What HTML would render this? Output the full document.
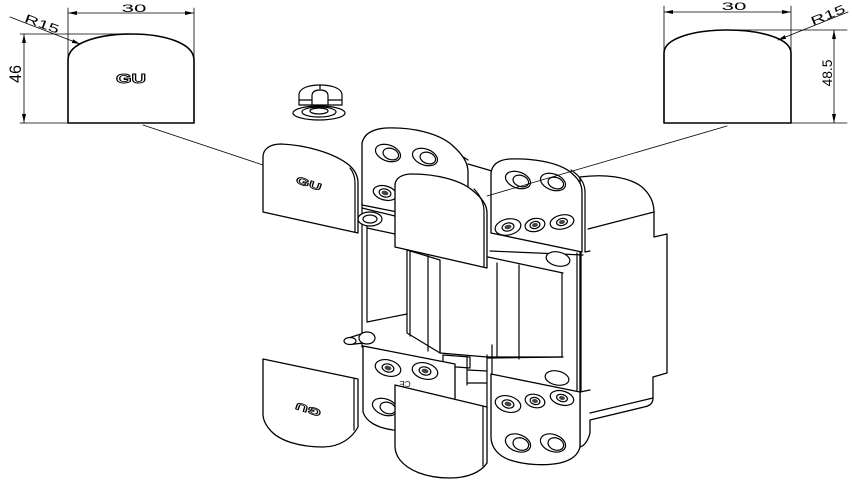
<!DOCTYPE html>
<html><head><meta charset="utf-8"><style>html,body{margin:0;padding:0;background:#fff}svg{display:block}</style></head>
<body>
<svg width="852" height="480" viewBox="0 0 852 480" xmlns="http://www.w3.org/2000/svg">
<g fill="none" stroke="#000" stroke-width="1.2" stroke-linejoin="round" stroke-linecap="round">

<!-- LEFT DIMENSION DRAWING -->
<path d="M68,123 V60 C68,43 98,34 131,34 C164,34 194,43 194,60 V123 Z" stroke-width="1.6"/>
<path d="M68,8 V60 M194,8 V60 M20,34 H131 M20,123 H68 M68,13 H194 M24,34 V123 M10,17 L80,44 M143,125 L263,165" stroke-width="0.8"/>
<g fill="#000" stroke="none">
<polygon points="68,13 77,11 77,15"/><polygon points="194,13 185,11 185,15"/>
<polygon points="24,34 22,43 26,43"/><polygon points="24,123 22,114 26,114"/>
<polygon points="80,44 71.8,42.9 73.2,39.3"/>
</g>
<text x="134" y="12" font-family="Liberation Sans, sans-serif" font-size="11" fill="#000" stroke="none" text-anchor="middle" textLength="25" lengthAdjust="spacingAndGlyphs">30</text>
<text x="15" y="80" font-family="Liberation Sans, sans-serif" font-size="17" fill="#000" stroke="none" text-anchor="middle" textLength="18" lengthAdjust="spacingAndGlyphs" transform="rotate(-90 15 74)">46</text>
<text x="42" y="28" font-family="Liberation Sans, sans-serif" font-size="12" fill="#000" stroke="none" text-anchor="middle" textLength="36" lengthAdjust="spacingAndGlyphs" transform="rotate(20 42 24)">R15</text>
<text x="131" y="83" font-family="Liberation Sans, sans-serif" font-size="13" font-weight="bold" fill="#fff" stroke="#000" stroke-width="0.9" text-anchor="middle" textLength="30" lengthAdjust="spacingAndGlyphs">GU</text>

<!-- RIGHT DIMENSION DRAWING -->
<path d="M664,123 V53 C664,38 695,30 727,30 C759,30 791,38 791,53 V123 Z" stroke-width="1.6"/>
<path d="M664,6 V53 M791,6 V53 M727,30 H847 M791,123 H847 M664,12 H791 M834,30 V123 M848,12 L778,40 M727,126 L600,163" stroke-width="0.8"/>
<g fill="#000" stroke="none">
<polygon points="664,12 673,10 673,14"/><polygon points="791,12 782,10 782,14"/>
<polygon points="834,30 832,39 836,39"/><polygon points="834,123 832,114 836,114"/>
<polygon points="778,40 786.1,38.9 784.7,35.1"/>
</g>
<text x="734" y="10" font-family="Liberation Sans, sans-serif" font-size="11" fill="#000" stroke="none" text-anchor="middle" textLength="25" lengthAdjust="spacingAndGlyphs">30</text>
<text x="827" y="78" font-family="Liberation Sans, sans-serif" font-size="14" fill="#000" stroke="none" text-anchor="middle" textLength="27" lengthAdjust="spacingAndGlyphs" transform="rotate(-90 827 73)">48.5</text>
<text x="828" y="19" font-family="Liberation Sans, sans-serif" font-size="12" fill="#000" stroke="none" text-anchor="middle" textLength="36" lengthAdjust="spacingAndGlyphs" transform="rotate(-22 828 15)">R15</text>

<!-- SMALL TOP PART -->
<ellipse cx="319" cy="113" rx="26" ry="7"/>
<ellipse cx="319" cy="112" rx="17" ry="5"/>
<ellipse cx="319" cy="111" rx="9" ry="3"/>
<path d="M299,105 V95 C299,88 309,85 320,85 C331,85 342,88 342,95 V105 Z" fill="#fff"/>
<path d="M312,105 V96 C312,92 315,90 320,90 C325,90 328,92 328,96 V105 M320,85 V90 M299,100 H312 M328,100 H342"/>

<!-- BACK BODY (right) -->
<path d="M580,177 C602,174 628,176 642,187 C651,195 654,203 654,212 V237 L667,234 V373 L653,377 V398 C653,403 650,406 644,407 L590,420 V433 C588,441 584,446 580,447 L580,177 Z" fill="#fff" stroke-width="1.3"/>
<path d="M588,229 L654,212 M590,413 L653,398"/>
<path d="M468,164 L492,171 M452,150 L468,160"/>

<!-- CENTRAL BOX -->
<path d="M362,203 V347 M367,226 V322 L407,314 M362,208 L395,216 M367,228 L395,234"/>
<path d="M407,250 V333 L440,353 M410,251 V336 M428,255 V351 M440,260 V353 M407,250 L440,260"/>
<path d="M440,353 L487,357 L562,357 M497,263 V358 M519,265 V359 M562,273 V357 M577,253 V392 M581,253 V392"/>
<path d="M488,257 L563,273 M490,251 L583,255"/>
<ellipse cx="558" cy="259" rx="12" ry="7" fill="#fff" transform="rotate(12 558 259)"/>
<ellipse cx="370" cy="219" rx="12" ry="7" fill="#fff"/>
<ellipse cx="370" cy="219" rx="7" ry="4"/>
<path d="M440,320 V353 M450,363 V400 M443,355 L470,357 V368 L443,366 Z M467,357 V385 M468,370 L487,371 M468,383 L487,383 M487,355 V407 M492,345 V375"/>
<path d="M488,358 L563,357"/>
<ellipse cx="557" cy="378" rx="12" ry="7" fill="#fff" transform="rotate(12 557 378)"/>

<!-- UPPER LEFT PLATE -->
<path d="M362,205 V143 C364,134 372,129 386,128 C412,127 438,133 452,145 C462,154 468,162 468,172 V226 Z" fill="#fff" stroke-width="1.3"/>
<g transform="translate(388,153) rotate(20)"><ellipse rx="13" ry="8"/><ellipse cx="3" cy="0" rx="8" ry="5.5"/></g>
<g transform="translate(425,157) rotate(20)"><ellipse rx="13" ry="8"/><ellipse cx="3" cy="0" rx="8" ry="5.5"/></g>
<g transform="translate(385,193) rotate(15)"><ellipse rx="12" ry="7"/><ellipse rx="6" ry="4"/><ellipse rx="3.5" ry="2.2" fill="#444" stroke="none"/></g>

<!-- UPPER LEFT CAP -->
<path d="M263,212 V157 C263,149 270,144 281,144 C306,145 334,153 349,165 C356,171 358,177 358,183 V233 Z" fill="#fff" stroke-width="1.3"/>
<path d="M350,168 C354,173 355,178 355,183 V232"/>
<text x="309" y="187" font-family="Liberation Sans, sans-serif" font-size="10" font-weight="bold" fill="#fff" stroke="#000" stroke-width="0.8" text-anchor="middle" textLength="26" lengthAdjust="spacingAndGlyphs" transform="rotate(18 309 183)">GU</text>

<!-- UPPER RIGHT PLATE -->
<path d="M491,233 V173 C492,165 498,160 509,159 C532,158 556,162 569,171 C578,178 582,184 582,192 V252 Z" fill="#fff" stroke-width="1.3"/>
<path d="M571,170 C580,176 585,183 585,192 V252 L590,251"/>
<g transform="translate(518,180) rotate(20)"><ellipse rx="13" ry="8"/><ellipse cx="3" cy="0" rx="8" ry="5.5"/></g>
<g transform="translate(553,182) rotate(20)"><ellipse rx="13" ry="8"/><ellipse cx="3" cy="0" rx="8" ry="5.5"/></g>
<g transform="translate(508,227) rotate(-12)"><ellipse rx="13" ry="8"/><ellipse rx="6" ry="4"/><ellipse rx="3.5" ry="2.2" fill="#444" stroke="none"/></g>
<g transform="translate(535,225) rotate(-12)"><ellipse rx="10" ry="6.5"/><ellipse rx="5" ry="3.5"/><ellipse rx="3" ry="2" fill="#444" stroke="none"/></g>
<g transform="translate(562,222) rotate(-12)"><ellipse rx="12" ry="7"/><ellipse rx="5.5" ry="3.5"/><ellipse rx="3" ry="2" fill="#444" stroke="none"/></g>
<path d="M600,163 L487,196" stroke-width="0.8"/>

<!-- UPPER MIDDLE CAP -->
<path d="M395,247 V184 C396,178 402,174 412,174 C436,174 460,180 472,190 C482,198 487,205 487,213 V268 Z" fill="#fff" stroke-width="1.3"/>
<path d="M474,189 C481,196 484,204 484,212 V267"/>

<!-- PIN -->
<path d="M350,337.5 L364,333 M350,344.5 L364,343" />
<ellipse cx="367" cy="338" rx="8" ry="6" fill="#fff"/>
<ellipse cx="350" cy="341" rx="6" ry="3.5" fill="#fff"/>

<!-- LOWER LEFT PLATE -->
<path d="M363,346 L455,364 V432 L393,430 C378,428 366,422 363,412 Z" fill="#fff" stroke-width="1.3"/>
<g transform="translate(388,368) rotate(15)"><ellipse rx="13" ry="8"/><ellipse rx="6" ry="4"/><ellipse rx="3.5" ry="2.2" fill="#444" stroke="none"/></g>
<g transform="translate(425,371) rotate(15)"><ellipse rx="13" ry="8"/><ellipse rx="6" ry="4"/><ellipse rx="3.5" ry="2.2" fill="#444" stroke="none"/></g>
<g transform="translate(385,407) rotate(20)"><ellipse rx="13" ry="8"/><ellipse cx="3" cy="0" rx="8" ry="5.5"/></g>
<text x="405" y="387" font-family="Liberation Sans, sans-serif" font-size="8" fill="#000" stroke="none" text-anchor="middle" transform="rotate(180 405 384)">CE</text>

<!-- LOWER LEFT CAP -->
<path d="M263,359 L358,379 V427 C352,438 340,447 323,447 C300,447 281,441 272,432 C266,426 263,420 263,414 Z" fill="#fff" stroke-width="1.3"/>
<path d="M354,378 V430"/>
<text x="308" y="414" font-family="Liberation Sans, sans-serif" font-size="10" font-weight="bold" fill="#fff" stroke="#000" stroke-width="0.8" text-anchor="middle" textLength="26" lengthAdjust="spacingAndGlyphs" transform="rotate(198 308 410)">GU</text>

<!-- LOWER RIGHT PLATE -->
<path d="M491,374 L580,392 V447 C578,455 572,460 560,463 C545,466 525,465 510,460 C498,456 491,447 491,437 Z" fill="#fff" stroke-width="1.3"/>
<path d="M580,392 L590,390"/>
<g transform="translate(508,404) rotate(15)"><ellipse rx="13" ry="8"/><ellipse rx="6" ry="4"/><ellipse rx="3.5" ry="2.2" fill="#444" stroke="none"/></g>
<g transform="translate(535,401) rotate(15)"><ellipse rx="10" ry="6.5"/><ellipse rx="5" ry="3.5"/><ellipse rx="3" ry="2" fill="#444" stroke="none"/></g>
<g transform="translate(562,398) rotate(15)"><ellipse rx="12" ry="7"/><ellipse rx="5.5" ry="3.5"/><ellipse rx="3" ry="2" fill="#444" stroke="none"/></g>
<g transform="translate(518,443) rotate(20)"><ellipse rx="13" ry="8.5"/><ellipse cx="3" cy="0" rx="8" ry="6"/></g>
<g transform="translate(553,443) rotate(20)"><ellipse rx="13" ry="8.5"/><ellipse cx="3" cy="0" rx="8" ry="6"/></g>

<!-- LOWER MIDDLE CAP -->
<path d="M395,385 L487,407 V463 C481,472 468,478 450,478 C425,478 408,470 400,460 C396,455 395,450 395,446 Z" fill="#fff" stroke-width="1.3"/>
<path d="M483,406 V466"/>

</g>
</svg>
</body></html>
